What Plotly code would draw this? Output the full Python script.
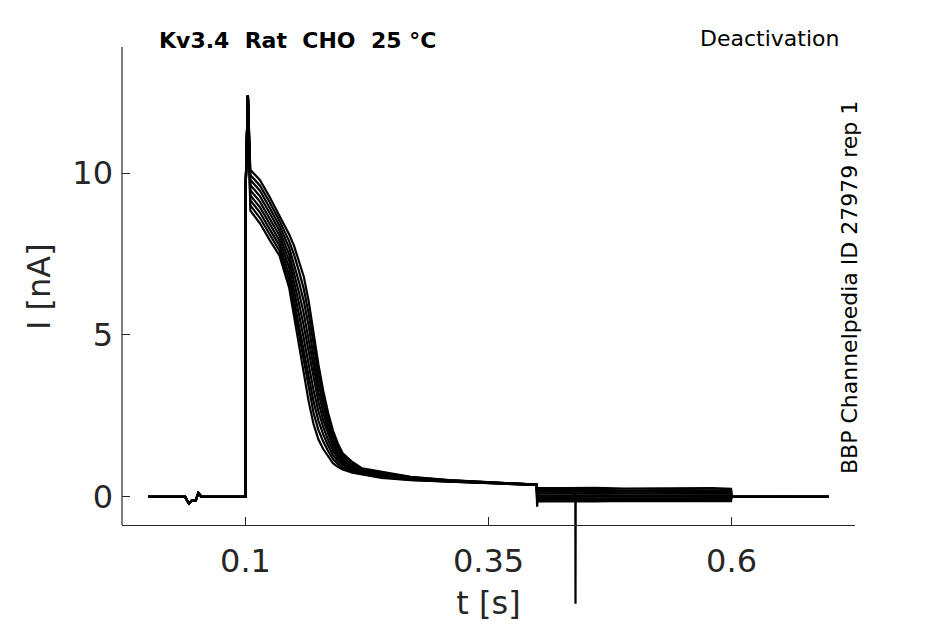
import plotly.graph_objects as go

# holding period (s, nA) - same for every sweep
t_hold = [0.0, 0.038, 0.0418, 0.0445, 0.049, 0.0515, 0.055, 0.0998]
i_hold = [0.0, 0.0, -0.2, -0.12, -0.1, 0.12, 0.0, 0.0]

# capacitive onset of the activating step
t_onset = [0.1, 0.1002, 0.1025]
i_onset = [0.0, 9.5, 12.4]

# activating step, sampled times
t_step = [0.105, 0.115, 0.125, 0.135, 0.145, 0.150, 0.155, 0.160, 0.165, 0.170,
          0.175, 0.180, 0.185, 0.190, 0.195, 0.200, 0.210, 0.220, 0.240, 0.270,
          0.310, 0.360, 0.3995]

sweep_1 = [10.10, 9.78, 9.25, 8.68, 8.10, 7.75, 7.30, 6.80, 6.05, 5.05, 4.10, 3.28,
           2.60, 2.05, 1.65, 1.35, 1.08, 0.88, 0.77, 0.62, 0.52, 0.44, 0.38]
sweep_2 = [9.94, 9.61, 9.09, 8.53, 7.89, 7.48, 6.97, 6.42, 5.66, 4.70, 3.81, 3.06,
           2.43, 1.92, 1.56, 1.29, 1.04, 0.86, 0.75, 0.61, 0.51, 0.44, 0.38]
sweep_3 = [9.79, 9.45, 8.92, 8.37, 7.69, 7.20, 6.64, 6.04, 5.28, 4.35, 3.52, 2.83,
           2.26, 1.80, 1.47, 1.23, 1.00, 0.83, 0.72, 0.60, 0.51, 0.435, 0.38]
sweep_4 = [9.63, 9.28, 8.76, 8.22, 7.48, 6.93, 6.31, 5.66, 4.89, 4.00, 3.23, 2.61,
           2.09, 1.67, 1.38, 1.16, 0.96, 0.81, 0.70, 0.58, 0.50, 0.43, 0.38]
sweep_5 = [9.47, 9.11, 8.59, 8.07, 7.28, 6.65, 5.98, 5.28, 4.50, 3.65, 2.94, 2.38,
           1.93, 1.55, 1.29, 1.10, 0.92, 0.79, 0.68, 0.57, 0.50, 0.43, 0.375]
sweep_6 = [9.31, 8.94, 8.43, 7.91, 7.07, 6.38, 5.64, 4.89, 4.11, 3.30, 2.65, 2.16,
           1.76, 1.42, 1.20, 1.04, 0.87, 0.76, 0.66, 0.56, 0.49, 0.43, 0.375]
sweep_7 = [9.16, 8.78, 8.26, 7.76, 6.86, 6.10, 5.31, 4.51, 3.73, 2.95, 2.36, 1.93,
           1.59, 1.29, 1.11, 0.98, 0.83, 0.74, 0.64, 0.545, 0.48, 0.425, 0.37]
sweep_8 = [9.00, 8.61, 8.10, 7.60, 6.66, 5.83, 4.98, 4.13, 3.34, 2.60, 2.07, 1.71,
           1.42, 1.17, 1.02, 0.91, 0.79, 0.71, 0.61, 0.53, 0.475, 0.42, 0.37]
sweep_9 = [8.84, 8.44, 7.93, 7.45, 6.45, 5.55, 4.65, 3.75, 2.95, 2.25, 1.78, 1.48,
           1.25, 1.04, 0.93, 0.85, 0.75, 0.69, 0.59, 0.52, 0.47, 0.42, 0.37]

# deactivation tails
t_tail = [0.4, 0.4005, 0.43, 0.46, 0.49, 0.52, 0.55, 0.58, 0.5995]
tail_1 = [0.30, 0.28, 0.27, 0.28, 0.26, 0.27, 0.26, 0.27, 0.25]
tail_2 = [0.24, 0.22, 0.21, 0.22, 0.20, 0.21, 0.21, 0.20, 0.21]
tail_3 = [0.18, 0.16, 0.17, 0.15, 0.16, 0.16, 0.15, 0.16, 0.15]
tail_4 = [0.12, 0.11, 0.12, 0.10, 0.11, 0.11, 0.10, 0.11, 0.10]
tail_5 = [0.06, 0.06, 0.05, 0.07, 0.06, 0.05, 0.06, 0.06, 0.05]
tail_6 = [0.01, 0.01, 0.02, 0.00, 0.01, 0.01, 0.00, 0.01, 0.01]
tail_7 = [-0.06, -0.04, -0.03, -0.05, -0.04, -0.04, -0.03, -0.04, -0.04]
tail_8 = [-0.15, -0.09, -0.08, -0.10, -0.09, -0.08, -0.09, -0.09, -0.08]
tail_9 = [-0.30, -0.14, -0.13, -0.14, -0.12, -0.13, -0.13, -0.12, -0.13]

t_post = [0.6, 0.65, 0.7]
i_post = [0.0, 0.01, 0.0]

# single artifact during the tail
t_artifact = [0.4393, 0.4395, 0.4397]
i_artifact = [0.15, -3.3, 0.1]

sweeps = [sweep_1, sweep_2, sweep_3, sweep_4, sweep_5, sweep_6, sweep_7, sweep_8, sweep_9]
tails = [tail_1, tail_2, tail_3, tail_4, tail_5, tail_6, tail_7, tail_8, tail_9]

fig = go.Figure()
for sw, tl in zip(sweeps, tails):
    t = t_hold + t_onset + t_step + t_tail + t_post
    i = i_hold + i_onset + sw + tl + i_post
    fig.add_trace(go.Scatter(x=t, y=i, mode='lines', line=dict(color='black', width=2.2),
                             hoverinfo='skip'))

fig.add_trace(go.Scatter(x=t_artifact, y=i_artifact, mode='lines',
                         line=dict(color='black', width=2.2), hoverinfo='skip'))

axcol = '#262626'
x_pos = (610 - 525) / 563  # where the x axis sits inside the plot area

# page body has an 8px margin, so the figure is a bit smaller than the window
fig.update_layout(
    width=937, height=616,
    margin=dict(l=114, r=90, t=39, b=14),
    plot_bgcolor='white', paper_bgcolor='white',
    showlegend=False,
    font=dict(family='DejaVu Sans', color=axcol),
    xaxis=dict(range=[-0.027, 0.727], anchor='free', position=x_pos, automargin=False,
               showline=True, linecolor=axcol, linewidth=1.2,
               ticks='inside', ticklen=8, tickwidth=1.2, tickcolor=axcol,
               tickvals=[0.1, 0.35, 0.6], ticktext=['0.1', '0.35', '0.6'],
               tickfont=dict(size=32), ticklabelstandoff=7,
               showgrid=False, zeroline=False,
               title=dict(text='t [s]', font=dict(size=32), standoff=13)),
    yaxis=dict(range=[-3.49, 13.89], showline=False, automargin=False,
               ticks='inside', ticklen=8, tickwidth=1.2, tickcolor=axcol,
               tickvals=[0, 5, 10], tickfont=dict(size=32), ticklabelstandoff=8,
               showgrid=False, zeroline=False),
    shapes=[dict(type='line', xref='paper', yref='paper', x0=0, x1=0, y0=x_pos, y1=1,
                 line=dict(color=axcol, width=1.2))],
    annotations=[
        dict(text='I [nA]', xref='paper', yref='paper',
             x=(39 - 122) / 733, y=(610 - 287) / 563, xanchor='center', yanchor='middle',
             textangle=-90, showarrow=False, font=dict(size=32, color=axcol)),
        dict(text='<b>Kv3.4  Rat  CHO  25 °C</b>', xref='paper', yref='paper',
             x=(157 - 122) / 733, y=(610 - 40) / 563, xanchor='left', yanchor='middle',
             showarrow=False, font=dict(size=22, color='black')),
        dict(text='Deactivation', xref='paper', yref='paper',
             x=(841 - 122) / 733, y=(610 - 38) / 563, xanchor='right', yanchor='middle',
             showarrow=False, font=dict(size=22, color='black')),
        dict(text='BBP Channelpedia ID 27979 rep 1', xref='paper', yref='paper',
             x=(849 - 122) / 733, y=(610 - 288) / 563, xanchor='center', yanchor='middle',
             textangle=-90, showarrow=False, font=dict(size=22, color='black')),
    ],
)

fig.write_html("out.html")
